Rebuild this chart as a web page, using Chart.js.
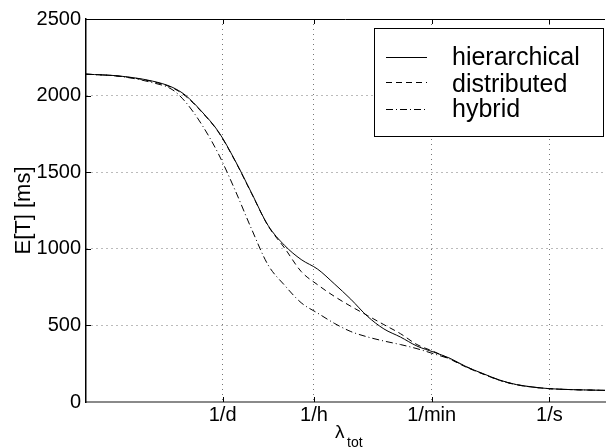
<!DOCTYPE html>
<html>
<head>
<meta charset="utf-8">
<script src="https://cdn.jsdelivr.net/npm/chart.js@4.4.0/dist/chart.umd.min.js"></script>
<style>
  html, body { margin: 0; padding: 0; background: #fff; }
  #wrap { width: 606px; height: 448px; }
</style>
</head>
<body>
<div id="wrap"><canvas id="chart"></canvas></div>
<script>
// x values are log10 of lambda_tot in 1/s
const logLambda = [-7, -6.5, -6, -5.7, -5.5, -5.25, -5, -4.75, -4.5, -4.25, -4, -3.75, -3.5, -3.25, -3,
    -2.75, -2.5, -2.25, -2, -1.75, -1.5, -1.25, -1, -0.75, -0.5, -0.25, 0, 0.4, 0.84];
const hierarchical = [2140, 2128, 2095, 2055, 2003, 1895, 1765, 1578, 1365, 1153, 1022, 930, 867, 772, 671,
    560, 477, 424, 365, 326, 285, 229, 185, 143, 114, 98, 87, 80, 76];
const distributed = [2140, 2127, 2092, 2052, 1998, 1892, 1762, 1575, 1362, 1150, 1005, 852, 765, 690, 625,
    565, 505, 446, 375, 330, 280, 226, 182, 141, 113, 97, 87, 80, 76];
const hybrid = [2140, 2126, 2085, 2040, 1960, 1810, 1620, 1385, 1130, 895, 762, 648, 580, 514, 460,
    425, 398, 375, 348, 315, 280, 229, 183, 142, 113, 97, 87, 80, 76];

const xTickPos = [Math.log10(1 / 86400), Math.log10(1 / 3600), Math.log10(1 / 60), 0];
const xTickLabels = ['1/d', '1/h', '1/min', '1/s'];
const yTicks = [0, 500, 1000, 1500, 2000, 2500];

const FONT = "'Liberation Sans', Arial, Helvetica, sans-serif";

function toPoints(ys) {
    return ys.map((y, i) => ({ x: logLambda[i], y: y }));
}

const series = [
    { label: 'hierarchical', data: hierarchical, dash: [] },
    { label: 'distributed', data: distributed, dash: [6, 4] },
    { label: 'hybrid', data: hybrid, dash: [7, 3, 1, 3] }
];

// axes frame, inward ticks, legend box and x title
const framePlugin = {
    id: 'frame',
    afterDraw(chart) {
        const ctx = chart.ctx;
        const area = chart.chartArea;
        const xs = chart.scales.x;
        const ys = chart.scales.y;
        ctx.save();
        ctx.strokeStyle = '#000';
        ctx.lineWidth = 1;
        ctx.setLineDash([]);
        ctx.beginPath();
        ctx.moveTo(area.left, area.top + 0.5);
        ctx.lineTo(area.right, area.top + 0.5);
        xTickPos.forEach(v => {
            const px = Math.round(xs.getPixelForValue(v)) + 0.5;
            ctx.moveTo(px, area.bottom);
            ctx.lineTo(px, area.bottom - 5);
            ctx.moveTo(px, area.top);
            ctx.lineTo(px, area.top + 5);
        });
        yTicks.slice(1, -1).forEach(v => {
            const py = Math.round(ys.getPixelForValue(v)) + 0.5;
            ctx.moveTo(area.left, py);
            ctx.lineTo(area.left + 5, py);
        });
        ctx.stroke();

        // legend
        const box = { x: 374.5, y: 28.5, w: 229, h: 108 };
        ctx.fillStyle = '#fff';
        ctx.fillRect(box.x, box.y, box.w, box.h);
        ctx.strokeRect(box.x, box.y, box.w, box.h);
        const rowY = [57, 82, 109];
        const textY = [65, 91.5, 117];
        ctx.font = '25px ' + FONT;
        ctx.textBaseline = 'alphabetic';
        ctx.textAlign = 'left';
        chart.data.datasets.forEach((ds, i) => {
            ctx.beginPath();
            ctx.setLineDash(ds.borderDash || []);
            ctx.moveTo(386, rowY[i] + 0.5);
            ctx.lineTo(427, rowY[i] + 0.5);
            ctx.stroke();
            ctx.setLineDash([]);
            ctx.fillStyle = '#000';
            ctx.fillText(ds.label, 452, textY[i]);
        });

        // x axis title: lambda_tot
        ctx.font = '19px ' + FONT;
        ctx.fillText('\u03bb', 335, 438);
        ctx.font = '14px ' + FONT;
        ctx.fillText('tot', 347, 447);
        ctx.restore();
    }
};

new Chart(document.getElementById('chart'), {
    type: 'line',
    data: {
        datasets: series.map(s => ({
            label: s.label,
            data: toPoints(s.data),
            borderColor: '#000',
            borderWidth: 1,
            borderDash: s.dash,
            pointRadius: 0,
            fill: false,
            tension: 0.4,
            cubicInterpolationMode: 'monotone'
        }))
    },
    options: {
        responsive: true,
        maintainAspectRatio: false,
        animation: false,
        layout: { padding: { top: 19, right: 1, left: 0, bottom: 0 } },
        plugins: {
            legend: { display: false },
            tooltip: { enabled: false }
        },
        scales: {
            x: {
                type: 'linear',
                min: -7,
                max: 0.84,
                afterFit: scale => { scale.height = 46; },
                afterBuildTicks: scale => {
                    scale.ticks = xTickPos.map(v => ({ value: v }));
                },
                ticks: {
                    autoSkip: false,
                    maxRotation: 0,
                    padding: 1,
                    color: '#000',
                    font: { family: FONT, size: 20 },
                    callback: (value, index) => xTickLabels[index]
                },
                grid: { color: '#777', lineWidth: 1, drawTicks: false },
                border: { display: true, color: '#8a8a8a', width: 2, dash: [1, 4] }
            },
            y: {
                min: 0,
                max: 2500,
                afterFit: scale => { scale.width = 86; },
                afterBuildTicks: scale => {
                    scale.ticks = yTicks.map(v => ({ value: v }));
                },
                ticks: {
                    padding: 5,
                    color: '#000',
                    font: { family: FONT, size: 20 },
                    callback: value => String(value)
                },
                grid: {
                    color: ctx => (ctx.tick && (ctx.tick.value === 0 || ctx.tick.value === 2500)) ? 'rgba(0,0,0,0)' : '#777',
                    lineWidth: 1,
                    drawTicks: false
                },
                border: { display: true, color: '#000', width: 1.5, dash: [1, 4] },
                title: {
                    display: true,
                    text: 'E[T] [ms]',
                    color: '#000',
                    font: { family: FONT, size: 22 },
                    padding: { top: 11, bottom: 0 }
                }
            }
        }
    },
    plugins: [framePlugin]
});
</script>
</body>
</html>
